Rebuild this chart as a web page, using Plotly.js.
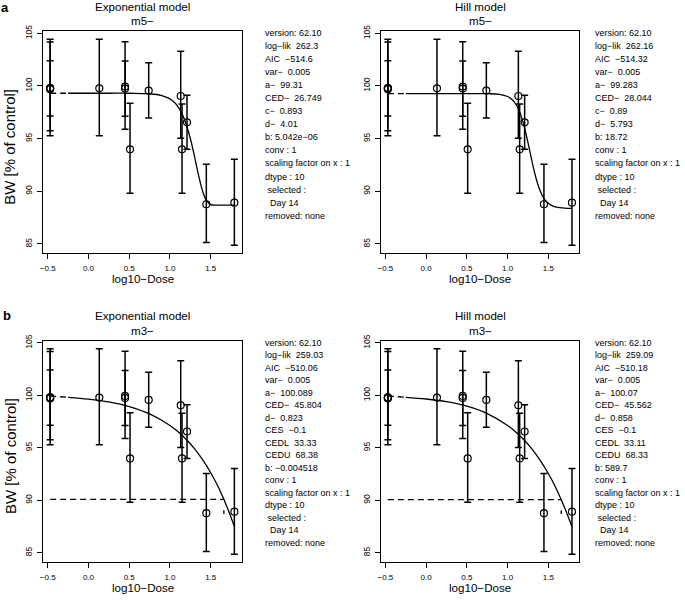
<!DOCTYPE html>
<html>
<head>
<meta charset="utf-8">
<script src="https://cdn.plot.ly/plotly-3.0.1.min.js"></script>
<style>html,body{margin:0;padding:0;background:#fff;}#chart{width:685px;height:600px;}</style>
</head>
<body>
<div id="chart"></div>
<script>
// ---------- data ----------
const logDose = [-0.47, -0.47, -0.47, 0.133, 0.449, 0.449, 0.51, 0.739, 1.132, 1.148, 1.209, 1.446, 1.79];
const bwMean  = [99.8, 99.7, 99.8, 99.78, 99.94, 99.75, 93.99, 99.56, 99.05, 93.99, 96.55, 88.77, 88.92];
const bwUpper = [104.43, 104.18, 102.40, 104.43, 104.20, 102.37, 98.35, 102.20, 103.29, 98.29, 99.11, 92.56, 93.04];
const bwLower = [95.28, 95.76, 97.15, 95.28, 95.89, 97.12, 89.81, 96.96, 95.03, 89.81, 93.99, 85.13, 84.87];

// fitted curves (solid part)
const curveXa = [-0.25, 0.25, 0.5, 0.75, 0.9, 1.0, 1.05, 1.1, 1.15, 1.2, 1.25, 1.3, 1.35, 1.4, 1.45, 1.5, 1.55, 1.6, 1.7, 1.79];
const expM5Y  = [99.31, 99.31, 99.31, 99.26, 99.09, 98.78, 98.47, 98.02, 97.33, 96.35, 95.01, 93.35, 91.56, 90.02, 89.08, 88.74, 88.69, 88.68, 88.68, 88.68];
const hillM5Y = [99.28, 99.28, 99.28, 99.27, 99.21, 99.00, 98.75, 98.29, 97.49, 96.27, 94.63, 92.82, 91.22, 90.04, 89.29, 88.86, 88.62, 88.50, 88.40, 88.37];
const curveXb = [-0.25, 0, 0.25, 0.5, 0.75, 1.0, 1.1, 1.2, 1.3, 1.4, 1.5, 1.6, 1.7, 1.79];
const expM3Y  = [99.81, 99.64, 99.37, 98.93, 98.23, 97.13, 96.52, 95.79, 94.92, 93.87, 92.62, 91.14, 89.37, 87.50];
const hillM3Y = [99.81, 99.65, 99.39, 98.96, 98.26, 97.13, 96.51, 95.77, 94.88, 93.81, 92.55, 91.06, 89.30, 87.47];

// dashed connection from control to curve start
const dashX = [-0.47, -0.25];
const expM5Dash  = [99.31, 99.31];
const hillM5Dash = [99.28, 99.28];
const expM3Dash  = [99.93, 99.81];
const hillM3Dash = [99.93, 99.81];

// CES level lines (panel b)
const cesExpX = [-0.47, 1.661];  const cesExpY = [90.08, 90.08];
const cesHillX = [-0.47, 1.659]; const cesHillY = [90.06, 90.06];
const cedMarkY = [89.05, 88.7];

const xTickVals = [-0.5, 0, 0.5, 1.0, 1.5];
const xTickText = ["\u22120.5", "0.0", "0.5", "1.0", "1.5"];
const yTickVals = [85, 90, 95, 100, 105];
const yTickText = ["85", "90", "95", "100", "105"];

const modelTitles = ["Exponential model", "Hill model", "Exponential model", "Hill model"];
const modelSubs = ["m5\u2212", "m5\u2212", "m3\u2212", "m3\u2212"];
const panelLetters = ["a", "b"];
const xTitle = "log10\u2212Dose";
const yTitleLeft = "BW [% of control]";

const statsExpM5 = ["version: 62.10", "log\u2212lik  262.3", "AIC  \u2212514.6", "var\u2212  0.005", "a\u2212  99.31", "CED\u2212  26.749", "c\u2212  0.893", "d\u2212  4.01", "b: 5.042e\u221206", "conv : 1", "scaling factor on x : 1", "dtype : 10", " selected :", "  Day 14", "removed: none"];
const statsHillM5 = ["version: 62.10", "log\u2212lik  262.16", "AIC  \u2212514.32", "var\u2212  0.005", "a\u2212  99.283", "CED\u2212  28.044", "c\u2212  0.89", "d\u2212  5.793", "b: 18.72", "conv : 1", "scaling factor on x : 1", "dtype : 10", " selected :", "  Day 14", "removed: none"];
const statsExpM3 = ["version: 62.10", "log\u2212lik  259.03", "AIC  \u2212510.06", "var\u2212  0.005", "a\u2212  100.089", "CED\u2212  45.804", "d\u2212  0.823", "CES  \u22120.1", "CEDL  33.33", "CEDU  68.38", "b: \u22120.004518", "conv : 1", "scaling factor on x : 1", "dtype : 10", " selected :", "  Day 14", "removed: none"];
const statsHillM3 = ["version: 62.10", "log\u2212lik  259.09", "AIC  \u2212510.18", "var\u2212  0.005", "a\u2212  100.07", "CED\u2212  45.562", "d\u2212  0.858", "CES  \u22120.1", "CEDL  33.11", "CEDU  68.33", "b: 589.7", "conv : 1", "scaling factor on x : 1", "dtype : 10", " selected :", "  Day 14", "removed: none"];

// ---------- layout geometry (pixels) ----------
const W = 685, H = 600;
const FONT = "Liberation Sans, Arial, sans-serif";
const px = v => v / W;
const py = v => 1 - v / H;
const boxes = [
  {l: 43.3, r: 241.7, t: 31, b: 252.7},
  {l: 381, r: 579.3, t: 31, b: 252.7},
  {l: 43.3, r: 241.7, t: 340.5, b: 561.5},
  {l: 381, r: 579.3, t: 340.5, b: 561.5}
];
const xRange = [-0.554, 1.88];
const yRange = [84.17, 105.22];

const errUp = bwMean.map((m, i) => bwUpper[i] - m);
const errDn = bwMean.map((m, i) => m - bwLower[i]);

const curves = [
  {x: curveXa, y: expM5Y, dash: expM5Dash},
  {x: curveXa, y: hillM5Y, dash: hillM5Dash},
  {x: curveXb, y: expM3Y, dash: expM3Dash, cesX: cesExpX, cesY: cesExpY},
  {x: curveXb, y: hillM3Y, dash: hillM3Dash, cesX: cesHillX, cesY: cesHillY}
];

const traces = [];
const layout = {
  width: W, height: H,
  margin: {l: 0, r: 0, t: 0, b: 0},
  paper_bgcolor: "#fff", plot_bgcolor: "#fff",
  showlegend: false,
  font: {family: FONT, color: "#000"},
  annotations: []
};

const DASH = "6px,4px";
boxes.forEach((bx, i) => {
  const n = i + 1;
  const xa = "x" + (n === 1 ? "" : n), ya = "y" + (n === 1 ? "" : n);
  const c = curves[i];
  traces.push({x: c.x, y: c.y, xaxis: xa, yaxis: ya, mode: "lines", line: {color: "#000", width: 1.3, shape: "spline"}, hoverinfo: "skip"});
  traces.push({x: dashX, y: c.dash, xaxis: xa, yaxis: ya, mode: "lines", line: {color: "#000", width: 1.3, dash: DASH}, hoverinfo: "skip"});
  if (c.cesX) {
    traces.push({x: c.cesX, y: c.cesY, xaxis: xa, yaxis: ya, mode: "lines", line: {color: "#000", width: 1.3, dash: DASH}, hoverinfo: "skip"});
    traces.push({x: [c.cesX[1], c.cesX[1]], y: cedMarkY, xaxis: xa, yaxis: ya, mode: "lines", line: {color: "#000", width: 1.3}, hoverinfo: "skip"});
  }
  traces.push({
    x: logDose, y: bwMean, xaxis: xa, yaxis: ya, mode: "markers",
    marker: {symbol: "circle-open", size: 7, color: "#000", line: {width: 1.2, color: "#000"}},
    error_y: {type: "data", symmetric: false, array: errUp, arrayminus: errDn, color: "#000", thickness: 1.5, width: 3.5}
  });
  const axCommon = {showgrid: false, zeroline: false, showline: true, mirror: true, linecolor: "#000", linewidth: 1,
                    ticks: "outside", ticklen: 5, tickwidth: 1, tickcolor: "#000", fixedrange: true};
  layout["xaxis" + (n === 1 ? "" : n)] = Object.assign({}, axCommon, {
    domain: [px(bx.l), px(bx.r)], anchor: ya, range: xRange,
    tickmode: "array", tickvals: xTickVals, ticktext: xTickText,
    tickfont: {family: FONT, size: 8, color: "#000"}, ticklabelstandoff: 3
  });
  layout["yaxis" + (n === 1 ? "" : n)] = Object.assign({}, axCommon, {
    domain: [py(bx.b), py(bx.t)], anchor: xa, range: yRange,
    tickmode: "array", tickvals: yTickVals, ticktext: yTickText, tickangle: -90,
    tickfont: {family: FONT, size: 8.5, color: "#000"}, ticklabelstandoff: 2
  });
  const cx = (bx.l + bx.r) / 2;
  const ann = layout.annotations;
  ann.push({xref: "paper", yref: "paper", x: px(cx), y: py(bx.t - 25), text: modelTitles[i], showarrow: false, xanchor: "center", yanchor: "middle", font: {size: 11.6}});
  ann.push({xref: "paper", yref: "paper", x: px(cx), y: py(bx.t - 10.5), text: modelSubs[i], showarrow: false, xanchor: "center", yanchor: "middle", font: {size: 11.6}});
  ann.push({xref: "paper", yref: "paper", x: px(cx), y: py(bx.b + 25.5), text: xTitle, showarrow: false, xanchor: "center", yanchor: "middle", font: {size: 11.6}});
});

// y-axis titles
const ann = layout.annotations;
[0, 2].forEach(i => {
  const bx = boxes[i];
  ann.push({xref: "paper", yref: "paper", x: px(10), y: py((bx.t + bx.b) / 2 + 5), text: yTitleLeft, textangle: -90, showarrow: false, xanchor: "center", yanchor: "middle", font: {size: 15}});
});

// panel letters
ann.push({xref: "paper", yref: "paper", x: px(4.5), y: py(7), text: "<b>" + panelLetters[0] + "</b>", showarrow: false, xanchor: "center", yanchor: "middle", font: {size: 13}});
ann.push({xref: "paper", yref: "paper", x: px(6.5), y: py(315), text: "<b>" + panelLetters[1] + "</b>", showarrow: false, xanchor: "center", yanchor: "middle", font: {size: 13}});

// stats text blocks
const nb = s => s.replace(/ /g, "\u00a0");
const blocks = [
  {lines: statsExpM5, x: 263.3, y0: 33.3, dy: 13.02, size: 9},
  {lines: statsHillM5, x: 593.3, y0: 33.3, dy: 13.02, size: 9},
  {lines: statsExpM3, x: 263.3, y0: 342.7, dy: 12.5, size: 9},
  {lines: statsHillM3, x: 593.3, y0: 342.7, dy: 12.5, size: 9}
];
blocks.forEach(bl => {
  bl.lines.forEach((t, k) => {
    ann.push({xref: "paper", yref: "paper", x: px(bl.x), y: py(bl.y0 + k * bl.dy), text: nb(t), showarrow: false, xanchor: "left", yanchor: "middle", font: {size: bl.size}});
  });
});

Plotly.newPlot("chart", traces, layout, {staticPlot: true, displayModeBar: false});
</script>
</body>
</html>
